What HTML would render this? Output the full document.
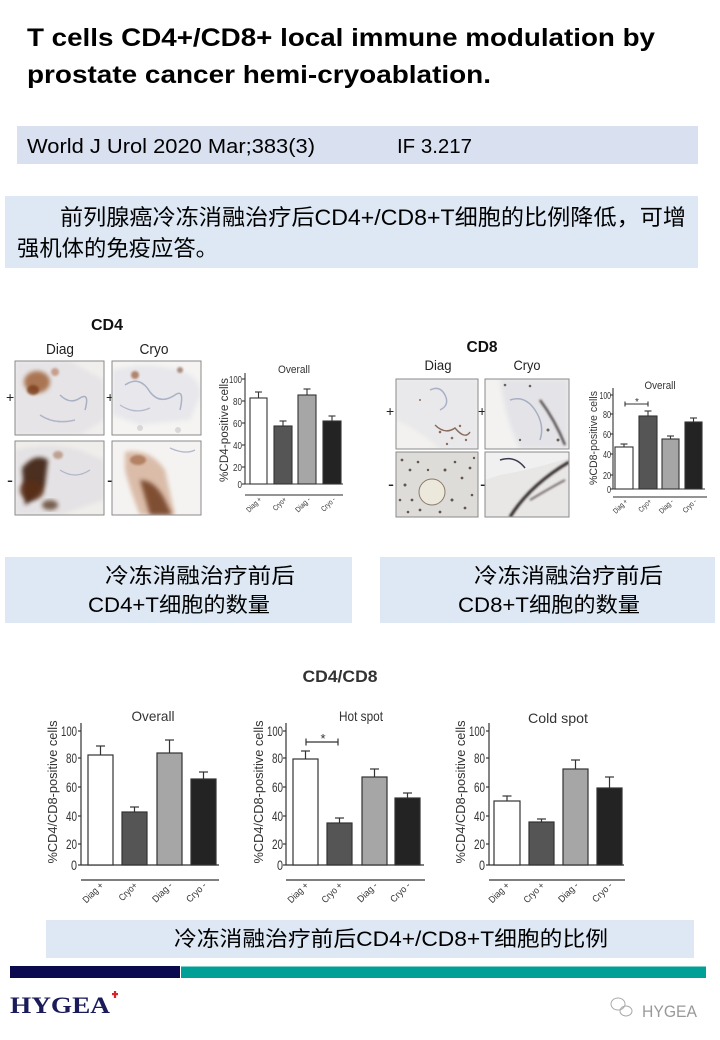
<!DOCTYPE html>
<html><head><meta charset="utf-8"><style>
html,body{margin:0;padding:0;background:#fff;}
svg{display:block;}
text{font-family:"Liberation Sans","Noto Sans CJK SC",sans-serif;}
</style></head><body>
<svg width="720" height="1040" viewBox="0 0 720 1040" xmlns="http://www.w3.org/2000/svg">
<defs>
<filter id="bl" x="-20%" y="-20%" width="140%" height="140%"><feGaussianBlur stdDeviation="2.2"/></filter>
<filter id="bl1" x="-20%" y="-20%" width="140%" height="140%"><feGaussianBlur stdDeviation="1"/></filter>
</defs>
<rect width="720" height="1040" fill="#fff"/>

<!-- Title -->
<text x="27" y="46" font-size="25" font-weight="bold" fill="#000" textLength="628" lengthAdjust="spacingAndGlyphs">T cells CD4+/CD8+ local immune modulation by</text>
<text x="27" y="83" font-size="25" font-weight="bold" fill="#000" textLength="464" lengthAdjust="spacingAndGlyphs">prostate cancer hemi-cryoablation.</text>

<!-- Box 1 -->
<rect x="17" y="126" width="681" height="38" fill="#d9e0f0"/>
<text x="27" y="153" font-size="20" fill="#000" textLength="288" lengthAdjust="spacingAndGlyphs">World J Urol 2020 Mar;383(3)</text>
<text x="397" y="153" font-size="20" fill="#000" textLength="75" lengthAdjust="spacingAndGlyphs">IF 3.217</text>

<!-- Box 2 -->
<rect x="5" y="196" width="693" height="72" fill="#dde8f4"/>
<text x="60" y="225" font-size="22" fill="#000" textLength="626" lengthAdjust="spacingAndGlyphs">前列腺癌冷冻消融治疗后CD4+/CD8+T细胞的比例降低，可增</text>
<text x="17" y="256" font-size="22" fill="#000" textLength="201" lengthAdjust="spacingAndGlyphs">强机体的免疫应答。</text>

<!-- ================= CD4 panel ================= -->
<text x="107" y="330" font-size="16" font-weight="bold" fill="#111" text-anchor="middle" textLength="32" lengthAdjust="spacingAndGlyphs">CD4</text>
<text x="60" y="354" font-size="15" fill="#222" text-anchor="middle" textLength="28" lengthAdjust="spacingAndGlyphs">Diag</text>
<text x="154" y="354" font-size="15" fill="#222" text-anchor="middle" textLength="29" lengthAdjust="spacingAndGlyphs">Cryo</text>
<text x="6" y="402" font-size="14" fill="#222">+</text>
<text x="106" y="402" font-size="14" fill="#222">+</text>
<text x="7" y="486" font-size="18" fill="#222">-</text>
<text x="107" y="486" font-size="18" fill="#222">-</text>

<g>
<clipPath id="c1"><rect x="15" y="361" width="89" height="74"/></clipPath>
<g clip-path="url(#c1)">
<rect x="15" y="361" width="89" height="74" fill="#f1efed"/>
<path d="M15 361 L70 361 L104 380 L104 420 L80 435 L15 435 Z" fill="#e6e4e6" filter="url(#bl)"/>
<ellipse cx="37" cy="382" rx="13" ry="11" fill="#9b5a2e" opacity="0.8" filter="url(#bl)"/>
<ellipse cx="33" cy="390" rx="6" ry="5" fill="#7a3d1b" opacity="0.8" filter="url(#bl1)"/>
<circle cx="55" cy="372" r="4" fill="#b07050" opacity="0.6" filter="url(#bl1)"/>
<path d="M60 395 Q70 405 80 398 Q90 392 85 410" stroke="#a8b0c4" stroke-width="1.5" fill="none"/>
<path d="M40 415 Q55 425 75 420" stroke="#b0b6c8" stroke-width="1.5" fill="none"/>
</g>
<rect x="15" y="361" width="89" height="74" fill="none" stroke="#8a8a8a" stroke-width="1"/>

<clipPath id="c2"><rect x="112" y="361" width="89" height="74"/></clipPath>
<g clip-path="url(#c2)">
<rect x="112" y="361" width="89" height="74" fill="#f5f4f2"/>
<path d="M112 370 Q140 362 170 368 Q200 372 201 395 L190 420 L140 425 L112 415 Z" fill="#e8e8ec" filter="url(#bl)"/>
<path d="M125 385 Q140 375 150 392 Q160 405 175 395 Q185 388 180 410" stroke="#aab2c6" stroke-width="1.5" fill="none"/>
<path d="M120 405 Q135 415 150 408" stroke="#b4bacc" stroke-width="1.3" fill="none"/>
<ellipse cx="135" cy="375" rx="4" ry="4" fill="#9a5a35" opacity="0.7" filter="url(#bl1)"/>
<ellipse cx="180" cy="370" rx="3" ry="3" fill="#7a4a30" opacity="0.6" filter="url(#bl1)"/>
<circle cx="140" cy="428" r="3" fill="#ccc" opacity="0.7"/>
<circle cx="178" cy="430" r="3" fill="#ccc" opacity="0.7"/>
</g>
<rect x="112" y="361" width="89" height="74" fill="none" stroke="#8a8a8a" stroke-width="1"/>

<clipPath id="c3"><rect x="15" y="441" width="89" height="74"/></clipPath>
<g clip-path="url(#c3)">
<rect x="15" y="441" width="89" height="74" fill="#f0eeeb"/>
<path d="M15 450 Q50 441 80 450 L104 460 L104 500 L60 515 L15 515 Z" fill="#e4e2e4" filter="url(#bl)"/>
<path d="M22 468 Q35 452 48 460 L45 485 Q35 500 25 505 Z" fill="#3a1e10" opacity="0.9" filter="url(#bl)"/>
<ellipse cx="32" cy="490" rx="12" ry="10" fill="#5a2e15" opacity="0.85" filter="url(#bl)"/>
<ellipse cx="50" cy="505" rx="8" ry="5" fill="#4a2810" opacity="0.7" filter="url(#bl)"/>
<ellipse cx="58" cy="455" rx="5" ry="4" fill="#9a6040" opacity="0.5" filter="url(#bl1)"/>
<path d="M60 470 Q75 480 90 470" stroke="#b0b6c8" stroke-width="1.3" fill="none"/>
</g>
<rect x="15" y="441" width="89" height="74" fill="none" stroke="#8a8a8a" stroke-width="1"/>

<clipPath id="c4"><rect x="112" y="441" width="89" height="74"/></clipPath>
<g clip-path="url(#c4)">
<rect x="112" y="441" width="89" height="74" fill="#f5f3f1"/>
<path d="M125 452 Q150 448 165 470 L175 515 L140 515 Q130 490 125 470 Z" fill="#c9987a" opacity="0.6" filter="url(#bl)"/>
<path d="M140 480 Q155 480 165 500 L172 515 L150 515 Z" fill="#6a3418" opacity="0.8" filter="url(#bl)"/>
<ellipse cx="138" cy="460" rx="8" ry="5" fill="#9a5a35" opacity="0.6" filter="url(#bl1)"/>
<path d="M170 448 Q185 455 195 450" stroke="#b4bacc" stroke-width="1.3" fill="none"/>
</g>
<rect x="112" y="441" width="89" height="74" fill="none" stroke="#8a8a8a" stroke-width="1"/>
</g>

<!-- CD4 chart -->
<g stroke="#333" stroke-width="1.1" fill="none">
<line x1="245" y1="373" x2="245" y2="484"/>
<line x1="242" y1="379" x2="245" y2="379"/><line x1="242" y1="401" x2="245" y2="401"/>
<line x1="242" y1="423" x2="245" y2="423"/><line x1="242" y1="445" x2="245" y2="445"/>
<line x1="242" y1="467" x2="245" y2="467"/><line x1="242" y1="484" x2="245" y2="484"/>
<line x1="245" y1="484" x2="343" y2="484"/>
</g>
<g font-size="10.5" fill="#333" text-anchor="end">
<text x="242" y="383" textLength="13" lengthAdjust="spacingAndGlyphs">100</text>
<text x="242" y="405" textLength="9" lengthAdjust="spacingAndGlyphs">80</text>
<text x="242" y="427" textLength="9" lengthAdjust="spacingAndGlyphs">60</text>
<text x="242" y="449" textLength="9" lengthAdjust="spacingAndGlyphs">40</text>
<text x="242" y="471" textLength="9" lengthAdjust="spacingAndGlyphs">20</text>
<text x="242" y="488" textLength="4.5" lengthAdjust="spacingAndGlyphs">0</text>
</g>
<text transform="translate(228,430) rotate(-90)" font-size="11.5" fill="#333" text-anchor="middle" textLength="104" lengthAdjust="spacingAndGlyphs">%CD4-positive cells</text>
<text x="294" y="373" font-size="11" fill="#333" text-anchor="middle" textLength="32" lengthAdjust="spacingAndGlyphs">Overall</text>
<g stroke="#333" stroke-width="1.1">
<line x1="258.5" y1="398" x2="258.5" y2="392"/><line x1="255" y1="392" x2="262" y2="392"/>
<line x1="283" y1="426" x2="283" y2="421"/><line x1="279.5" y1="421" x2="286.5" y2="421"/>
<line x1="307" y1="395" x2="307" y2="389"/><line x1="303.5" y1="389" x2="310.5" y2="389"/>
<line x1="332" y1="421" x2="332" y2="416"/><line x1="328.5" y1="416" x2="335.5" y2="416"/>
<rect x="250" y="398" width="17" height="86" fill="#fff"/>
<rect x="274" y="426" width="18" height="58" fill="#555"/>
<rect x="298" y="395" width="18" height="89" fill="#a6a6a6"/>
<rect x="323" y="421" width="18" height="63" fill="#232323"/>
</g>
<line x1="245" y1="495" x2="343" y2="495" stroke="#555" stroke-width="1.3"/>
<g font-size="7.5" fill="#333" text-anchor="end">
<text transform="translate(262,500) rotate(-45)" textLength="18" lengthAdjust="spacingAndGlyphs">Diag +</text>
<text transform="translate(287,500) rotate(-45)" textLength="16" lengthAdjust="spacingAndGlyphs">Cryo+</text>
<text transform="translate(311,500) rotate(-45)" textLength="18" lengthAdjust="spacingAndGlyphs">Diag -</text>
<text transform="translate(336,500) rotate(-45)" textLength="17" lengthAdjust="spacingAndGlyphs">Cryo -</text>
</g>

<!-- ================= CD8 panel ================= -->
<text x="482" y="352" font-size="16" font-weight="bold" fill="#111" text-anchor="middle" textLength="31" lengthAdjust="spacingAndGlyphs">CD8</text>
<text x="438" y="370" font-size="14" fill="#222" text-anchor="middle" textLength="27" lengthAdjust="spacingAndGlyphs">Diag</text>
<text x="527" y="370" font-size="14" fill="#222" text-anchor="middle" textLength="27" lengthAdjust="spacingAndGlyphs">Cryo</text>
<text x="386" y="416" font-size="14" fill="#222">+</text>
<text x="478" y="416" font-size="14" fill="#222">+</text>
<text x="388" y="490" font-size="18" fill="#222">-</text>
<text x="480" y="490" font-size="18" fill="#222">-</text>

<g>
<clipPath id="d1"><rect x="396" y="379" width="82" height="70"/></clipPath>
<g clip-path="url(#d1)">
<rect x="396" y="379" width="82" height="70" fill="#f2f1ef"/>
<path d="M396 379 L478 379 L478 449 L440 449 Q420 430 396 420 Z" fill="#e9e8ea" filter="url(#bl)"/>
<path d="M430 390 Q440 385 445 395 Q450 405 440 410" stroke="#a8b0c6" stroke-width="1.4" fill="none"/>
<path d="M435 425 Q445 435 455 428 Q465 440 470 432" stroke="#8a6a5a" stroke-width="1.4" fill="none"/>
<g fill="#6a3a20" opacity="0.7"><circle cx="440" cy="432" r="1.3"/><circle cx="452" cy="438" r="1.3"/><circle cx="460" cy="426" r="1.2"/><circle cx="447" cy="444" r="1.2"/><circle cx="420" cy="400" r="1"/><circle cx="466" cy="440" r="1.2"/></g>
</g>
<rect x="396" y="379" width="82" height="70" fill="none" stroke="#8a8a8a" stroke-width="1"/>

<clipPath id="d2"><rect x="485" y="379" width="84" height="70"/></clipPath>
<g clip-path="url(#d2)">
<rect x="485" y="379" width="84" height="70" fill="#f3f2f1"/>
<path d="M500 379 L569 379 L569 449 L520 449 Q505 420 500 379 Z" fill="#e4e4e8" filter="url(#bl)"/>
<path d="M510 400 Q525 395 535 410 Q545 425 540 440" stroke="#a6aec4" stroke-width="1.5" fill="none"/>
<path d="M540 400 Q555 420 565 445" stroke="#3a3030" stroke-width="2" fill="none" filter="url(#bl1)"/>
<g fill="#3a2a20" opacity="0.7"><circle cx="505" cy="385" r="1.3"/><circle cx="530" cy="386" r="1.3"/><circle cx="548" cy="430" r="1.5"/><circle cx="558" cy="440" r="1.5"/><circle cx="520" cy="440" r="1.2"/></g>
</g>
<rect x="485" y="379" width="84" height="70" fill="none" stroke="#8a8a8a" stroke-width="1"/>

<clipPath id="d3"><rect x="396" y="452" width="82" height="65"/></clipPath>
<g clip-path="url(#d3)">
<rect x="396" y="452" width="82" height="65" fill="#dedcd8"/>
<g fill="#3a2a20" opacity="0.75">
<circle cx="402" cy="460" r="1.4"/><circle cx="410" cy="470" r="1.4"/><circle cx="418" cy="462" r="1.3"/><circle cx="405" cy="485" r="1.5"/><circle cx="412" cy="500" r="1.4"/><circle cx="420" cy="510" r="1.4"/><circle cx="445" cy="470" r="1.5"/><circle cx="455" cy="462" r="1.3"/><circle cx="462" cy="478" r="1.4"/><circle cx="470" cy="468" r="1.4"/><circle cx="452" cy="500" r="1.5"/><circle cx="465" cy="508" r="1.4"/><circle cx="472" cy="495" r="1.3"/><circle cx="408" cy="512" r="1.3"/><circle cx="440" cy="512" r="1.4"/><circle cx="428" cy="470" r="1.2"/><circle cx="400" cy="500" r="1.3"/><circle cx="474" cy="458" r="1.2"/>
</g>
<circle cx="432" cy="492" r="13" fill="#ece8dc" stroke="#8a7a6a" stroke-width="1"/>
</g>
<rect x="396" y="452" width="82" height="65" fill="none" stroke="#8a8a8a" stroke-width="1"/>

<clipPath id="d4"><rect x="485" y="452" width="84" height="65"/></clipPath>
<g clip-path="url(#d4)">
<rect x="485" y="452" width="84" height="65" fill="#e8e7e6"/>
<path d="M485 452 L569 452 L569 458 Q530 470 500 475 L485 480 Z" fill="#f0f0f0"/>
<path d="M500 460 Q515 455 525 468" stroke="#3a3a50" stroke-width="1.5" fill="none"/>
<path d="M510 517 Q530 485 569 462" stroke="#2a2222" stroke-width="3" fill="none" filter="url(#bl1)"/>
<path d="M530 500 Q550 488 565 480" stroke="#4a3a3a" stroke-width="1.5" fill="none" filter="url(#bl1)"/>
</g>
<rect x="485" y="452" width="84" height="65" fill="none" stroke="#8a8a8a" stroke-width="1"/>
</g>

<!-- CD8 chart -->
<g stroke="#333" stroke-width="1.1" fill="none">
<line x1="613" y1="388" x2="613" y2="489"/>
<line x1="610" y1="395" x2="613" y2="395"/><line x1="610" y1="414" x2="613" y2="414"/>
<line x1="610" y1="434" x2="613" y2="434"/><line x1="610" y1="454" x2="613" y2="454"/>
<line x1="610" y1="475" x2="613" y2="475"/><line x1="610" y1="489" x2="613" y2="489"/>
<line x1="613" y1="489" x2="705" y2="489"/>
</g>
<g font-size="10" fill="#333" text-anchor="end">
<text x="611" y="399" textLength="11.5" lengthAdjust="spacingAndGlyphs">100</text>
<text x="611" y="418" textLength="8" lengthAdjust="spacingAndGlyphs">80</text>
<text x="611" y="438" textLength="8" lengthAdjust="spacingAndGlyphs">60</text>
<text x="611" y="458" textLength="8" lengthAdjust="spacingAndGlyphs">40</text>
<text x="611" y="479" textLength="8" lengthAdjust="spacingAndGlyphs">20</text>
<text x="611" y="493" textLength="4" lengthAdjust="spacingAndGlyphs">0</text>
</g>
<text transform="translate(597,438) rotate(-90)" font-size="11" fill="#333" text-anchor="middle" textLength="94" lengthAdjust="spacingAndGlyphs">%CD8-positive cells</text>
<text x="660" y="389" font-size="11" fill="#333" text-anchor="middle" textLength="31" lengthAdjust="spacingAndGlyphs">Overall</text>
<g stroke="#333" stroke-width="1.1">
<line x1="624" y1="447" x2="624" y2="444"/><line x1="620.5" y1="444" x2="627.5" y2="444"/>
<line x1="648" y1="416" x2="648" y2="411"/><line x1="644.5" y1="411" x2="651.5" y2="411"/>
<line x1="670.5" y1="439" x2="670.5" y2="436"/><line x1="667" y1="436" x2="674" y2="436"/>
<line x1="693.5" y1="422" x2="693.5" y2="418"/><line x1="690" y1="418" x2="697" y2="418"/>
<rect x="615" y="447" width="18" height="42" fill="#fff"/>
<rect x="639" y="416" width="18" height="73" fill="#555"/>
<rect x="662" y="439" width="17" height="50" fill="#a6a6a6"/>
<rect x="685" y="422" width="17" height="67" fill="#232323"/>
<line x1="625" y1="404" x2="648" y2="404"/>
<line x1="625" y1="401.5" x2="625" y2="406.5"/><line x1="648" y1="401.5" x2="648" y2="406.5"/>
</g>
<text x="637" y="405" font-size="10" fill="#333" text-anchor="middle">*</text>
<line x1="613" y1="497" x2="707" y2="497" stroke="#555" stroke-width="1.3"/>
<g font-size="7.5" fill="#333" text-anchor="end">
<text transform="translate(628,502) rotate(-45)" textLength="17" lengthAdjust="spacingAndGlyphs">Diag +</text>
<text transform="translate(652,502) rotate(-45)" textLength="15" lengthAdjust="spacingAndGlyphs">Cryo+</text>
<text transform="translate(674,502) rotate(-45)" textLength="17" lengthAdjust="spacingAndGlyphs">Diag -</text>
<text transform="translate(697,502) rotate(-45)" textLength="16" lengthAdjust="spacingAndGlyphs">Cryo -</text>
</g>

<!-- Middle captions -->
<rect x="5" y="557" width="347" height="66" fill="#dde8f4"/>
<rect x="380" y="557" width="335" height="66" fill="#dde8f4"/>
<text x="105" y="583" font-size="21" fill="#000" textLength="190" lengthAdjust="spacingAndGlyphs">冷冻消融治疗前后</text>
<text x="88" y="612" font-size="21" fill="#000" textLength="182" lengthAdjust="spacingAndGlyphs">CD4+T细胞的数量</text>
<text x="474" y="583" font-size="21" fill="#000" textLength="189" lengthAdjust="spacingAndGlyphs">冷冻消融治疗前后</text>
<text x="458" y="612" font-size="21" fill="#000" textLength="182" lengthAdjust="spacingAndGlyphs">CD8+T细胞的数量</text>

<!-- CD4/CD8 title -->
<text x="340" y="682" font-size="17" font-weight="bold" fill="#333" text-anchor="middle" textLength="75" lengthAdjust="spacingAndGlyphs">CD4/CD8</text>

<!-- Bottom chart 1 -->
<g stroke="#333" stroke-width="1.2" fill="none">
<line x1="81" y1="723" x2="81" y2="865"/>
<line x1="78" y1="731" x2="81" y2="731"/><line x1="78" y1="758" x2="81" y2="758"/>
<line x1="78" y1="787" x2="81" y2="787"/><line x1="78" y1="816" x2="81" y2="816"/>
<line x1="78" y1="844" x2="81" y2="844"/><line x1="78" y1="865" x2="81" y2="865"/>
<line x1="81" y1="865" x2="219" y2="865"/>
</g>
<g font-size="14" fill="#333" text-anchor="end">
<text x="77" y="736" textLength="16" lengthAdjust="spacingAndGlyphs">100</text>
<text x="77" y="763" textLength="11" lengthAdjust="spacingAndGlyphs">80</text>
<text x="77" y="792" textLength="11" lengthAdjust="spacingAndGlyphs">60</text>
<text x="77" y="821" textLength="11" lengthAdjust="spacingAndGlyphs">40</text>
<text x="77" y="849" textLength="11" lengthAdjust="spacingAndGlyphs">20</text>
<text x="77" y="870" textLength="6" lengthAdjust="spacingAndGlyphs">0</text>
</g>
<text transform="translate(57,792) rotate(-90)" font-size="13" fill="#333" text-anchor="middle" textLength="143" lengthAdjust="spacingAndGlyphs">%CD4/CD8-positive cells</text>
<text x="153" y="721" font-size="14" fill="#333" text-anchor="middle" textLength="43" lengthAdjust="spacingAndGlyphs">Overall</text>
<g stroke="#333" stroke-width="1.2">
<line x1="100.5" y1="755" x2="100.5" y2="746"/><line x1="96" y1="746" x2="105" y2="746"/>
<line x1="134.5" y1="812" x2="134.5" y2="807"/><line x1="130" y1="807" x2="139" y2="807"/>
<line x1="169.5" y1="753" x2="169.5" y2="740"/><line x1="165" y1="740" x2="174" y2="740"/>
<line x1="203.5" y1="779" x2="203.5" y2="772"/><line x1="199" y1="772" x2="208" y2="772"/>
<rect x="88" y="755" width="25" height="110" fill="#fff"/>
<rect x="122" y="812" width="25" height="53" fill="#555"/>
<rect x="157" y="753" width="25" height="112" fill="#a6a6a6"/>
<rect x="191" y="779" width="25" height="86" fill="#232323"/>
</g>
<line x1="81" y1="880" x2="219" y2="880" stroke="#555" stroke-width="1.5"/>
<g font-size="9.5" fill="#333" text-anchor="end">
<text transform="translate(104,886) rotate(-45)" textLength="25" lengthAdjust="spacingAndGlyphs">Diag +</text>
<text transform="translate(138,886) rotate(-45)" textLength="22" lengthAdjust="spacingAndGlyphs">Cryo+</text>
<text transform="translate(173,886) rotate(-45)" textLength="24" lengthAdjust="spacingAndGlyphs">Diag -</text>
<text transform="translate(207,886) rotate(-45)" textLength="24" lengthAdjust="spacingAndGlyphs">Cryo -</text>
</g>

<!-- Bottom chart 2 -->
<g stroke="#333" stroke-width="1.2" fill="none">
<line x1="286" y1="723" x2="286" y2="865"/>
<line x1="283" y1="731" x2="286" y2="731"/><line x1="283" y1="758" x2="286" y2="758"/>
<line x1="283" y1="787" x2="286" y2="787"/><line x1="283" y1="816" x2="286" y2="816"/>
<line x1="283" y1="844" x2="286" y2="844"/><line x1="283" y1="865" x2="286" y2="865"/>
<line x1="286" y1="865" x2="424" y2="865"/>
</g>
<g font-size="14" fill="#333" text-anchor="end">
<text x="283" y="736" textLength="16" lengthAdjust="spacingAndGlyphs">100</text>
<text x="283" y="763" textLength="11" lengthAdjust="spacingAndGlyphs">80</text>
<text x="283" y="792" textLength="11" lengthAdjust="spacingAndGlyphs">60</text>
<text x="283" y="821" textLength="11" lengthAdjust="spacingAndGlyphs">40</text>
<text x="283" y="849" textLength="11" lengthAdjust="spacingAndGlyphs">20</text>
<text x="283" y="870" textLength="6" lengthAdjust="spacingAndGlyphs">0</text>
</g>
<text transform="translate(263,792) rotate(-90)" font-size="13" fill="#333" text-anchor="middle" textLength="143" lengthAdjust="spacingAndGlyphs">%CD4/CD8-positive cells</text>
<text x="361" y="721" font-size="14" fill="#333" text-anchor="middle" textLength="44" lengthAdjust="spacingAndGlyphs">Hot spot</text>
<g stroke="#333" stroke-width="1.2">
<line x1="305.5" y1="759" x2="305.5" y2="751"/><line x1="301" y1="751" x2="310" y2="751"/>
<line x1="339.5" y1="823" x2="339.5" y2="818"/><line x1="335" y1="818" x2="344" y2="818"/>
<line x1="374.5" y1="777" x2="374.5" y2="769"/><line x1="370" y1="769" x2="379" y2="769"/>
<line x1="407.5" y1="798" x2="407.5" y2="793"/><line x1="403" y1="793" x2="412" y2="793"/>
<rect x="293" y="759" width="25" height="106" fill="#fff"/>
<rect x="327" y="823" width="25" height="42" fill="#555"/>
<rect x="362" y="777" width="25" height="88" fill="#a6a6a6"/>
<rect x="395" y="798" width="25" height="67" fill="#232323"/>
<line x1="306" y1="742" x2="338" y2="742"/>
<line x1="306" y1="738.5" x2="306" y2="745.5"/><line x1="338" y1="738.5" x2="338" y2="745.5"/>
</g>
<text x="323" y="743" font-size="13" fill="#333" text-anchor="middle">*</text>
<line x1="286" y1="880" x2="425" y2="880" stroke="#555" stroke-width="1.5"/>
<g font-size="9.5" fill="#333" text-anchor="end">
<text transform="translate(309,886) rotate(-45)" textLength="25" lengthAdjust="spacingAndGlyphs">Diag +</text>
<text transform="translate(343,886) rotate(-45)" textLength="25" lengthAdjust="spacingAndGlyphs">Cryo +</text>
<text transform="translate(378,886) rotate(-45)" textLength="24" lengthAdjust="spacingAndGlyphs">Diag -</text>
<text transform="translate(411,886) rotate(-45)" textLength="24" lengthAdjust="spacingAndGlyphs">Cryo -</text>
</g>

<!-- Bottom chart 3 -->
<g stroke="#333" stroke-width="1.2" fill="none">
<line x1="489" y1="723" x2="489" y2="865"/>
<line x1="486" y1="731" x2="489" y2="731"/><line x1="486" y1="758" x2="489" y2="758"/>
<line x1="486" y1="787" x2="489" y2="787"/><line x1="486" y1="816" x2="489" y2="816"/>
<line x1="486" y1="844" x2="489" y2="844"/><line x1="486" y1="865" x2="489" y2="865"/>
<line x1="489" y1="865" x2="624" y2="865"/>
</g>
<g font-size="14" fill="#333" text-anchor="end">
<text x="485" y="736" textLength="16" lengthAdjust="spacingAndGlyphs">100</text>
<text x="485" y="763" textLength="11" lengthAdjust="spacingAndGlyphs">80</text>
<text x="485" y="792" textLength="11" lengthAdjust="spacingAndGlyphs">60</text>
<text x="485" y="821" textLength="11" lengthAdjust="spacingAndGlyphs">40</text>
<text x="485" y="849" textLength="11" lengthAdjust="spacingAndGlyphs">20</text>
<text x="485" y="870" textLength="6" lengthAdjust="spacingAndGlyphs">0</text>
</g>
<text transform="translate(465,792) rotate(-90)" font-size="13" fill="#333" text-anchor="middle" textLength="143" lengthAdjust="spacingAndGlyphs">%CD4/CD8-positive cells</text>
<text x="558" y="723" font-size="14" fill="#333" text-anchor="middle" textLength="60" lengthAdjust="spacingAndGlyphs">Cold spot</text>
<g stroke="#333" stroke-width="1.2">
<line x1="507" y1="801" x2="507" y2="796"/><line x1="502.5" y1="796" x2="511.5" y2="796"/>
<line x1="541.5" y1="822" x2="541.5" y2="819"/><line x1="537" y1="819" x2="546" y2="819"/>
<line x1="575.5" y1="769" x2="575.5" y2="760"/><line x1="571" y1="760" x2="580" y2="760"/>
<line x1="609.5" y1="788" x2="609.5" y2="777"/><line x1="605" y1="777" x2="614" y2="777"/>
<rect x="494" y="801" width="26" height="64" fill="#fff"/>
<rect x="529" y="822" width="25" height="43" fill="#555"/>
<rect x="563" y="769" width="25" height="96" fill="#a6a6a6"/>
<rect x="597" y="788" width="25" height="77" fill="#232323"/>
</g>
<line x1="489" y1="880" x2="625" y2="880" stroke="#555" stroke-width="1.5"/>
<g font-size="9.5" fill="#333" text-anchor="end">
<text transform="translate(510,886) rotate(-45)" textLength="25" lengthAdjust="spacingAndGlyphs">Diag +</text>
<text transform="translate(545,886) rotate(-45)" textLength="25" lengthAdjust="spacingAndGlyphs">Cryo +</text>
<text transform="translate(579,886) rotate(-45)" textLength="24" lengthAdjust="spacingAndGlyphs">Diag -</text>
<text transform="translate(613,886) rotate(-45)" textLength="24" lengthAdjust="spacingAndGlyphs">Cryo -</text>
</g>

<!-- Bottom caption -->
<rect x="46" y="920" width="648" height="38" fill="#dde8f4"/>
<text x="174" y="946" font-size="21" fill="#000" textLength="434" lengthAdjust="spacingAndGlyphs">冷冻消融治疗前后CD4+/CD8+T细胞的比例</text>

<!-- Footer bars -->
<rect x="10" y="966" width="170" height="12" fill="#0b0a4e"/>
<rect x="181" y="966" width="525" height="12" fill="#00a096"/>
<line x1="181" y1="966.5" x2="706" y2="966.5" stroke="#7fcfc9" stroke-width="1"/>

<!-- Logo -->
<text x="10" y="1013" font-size="23" font-weight="bold" fill="#1b1b5c" textLength="100" lengthAdjust="spacingAndGlyphs" style="font-family:'Liberation Serif',serif">HYGEA</text>
<rect x="112" y="993" width="6" height="2.2" fill="#e0202a"/>
<rect x="113.9" y="991" width="2.2" height="7" fill="#e0202a"/>

<!-- WeChat mark -->
<g stroke="#aaa" stroke-width="1" fill="none">
<ellipse cx="618" cy="1004" rx="7" ry="6"/>
<ellipse cx="626" cy="1011" rx="6" ry="5"/>
</g>
<text x="642" y="1017" font-size="17" fill="#999" textLength="55" lengthAdjust="spacingAndGlyphs">HYGEA</text>
</svg>
</body></html>
